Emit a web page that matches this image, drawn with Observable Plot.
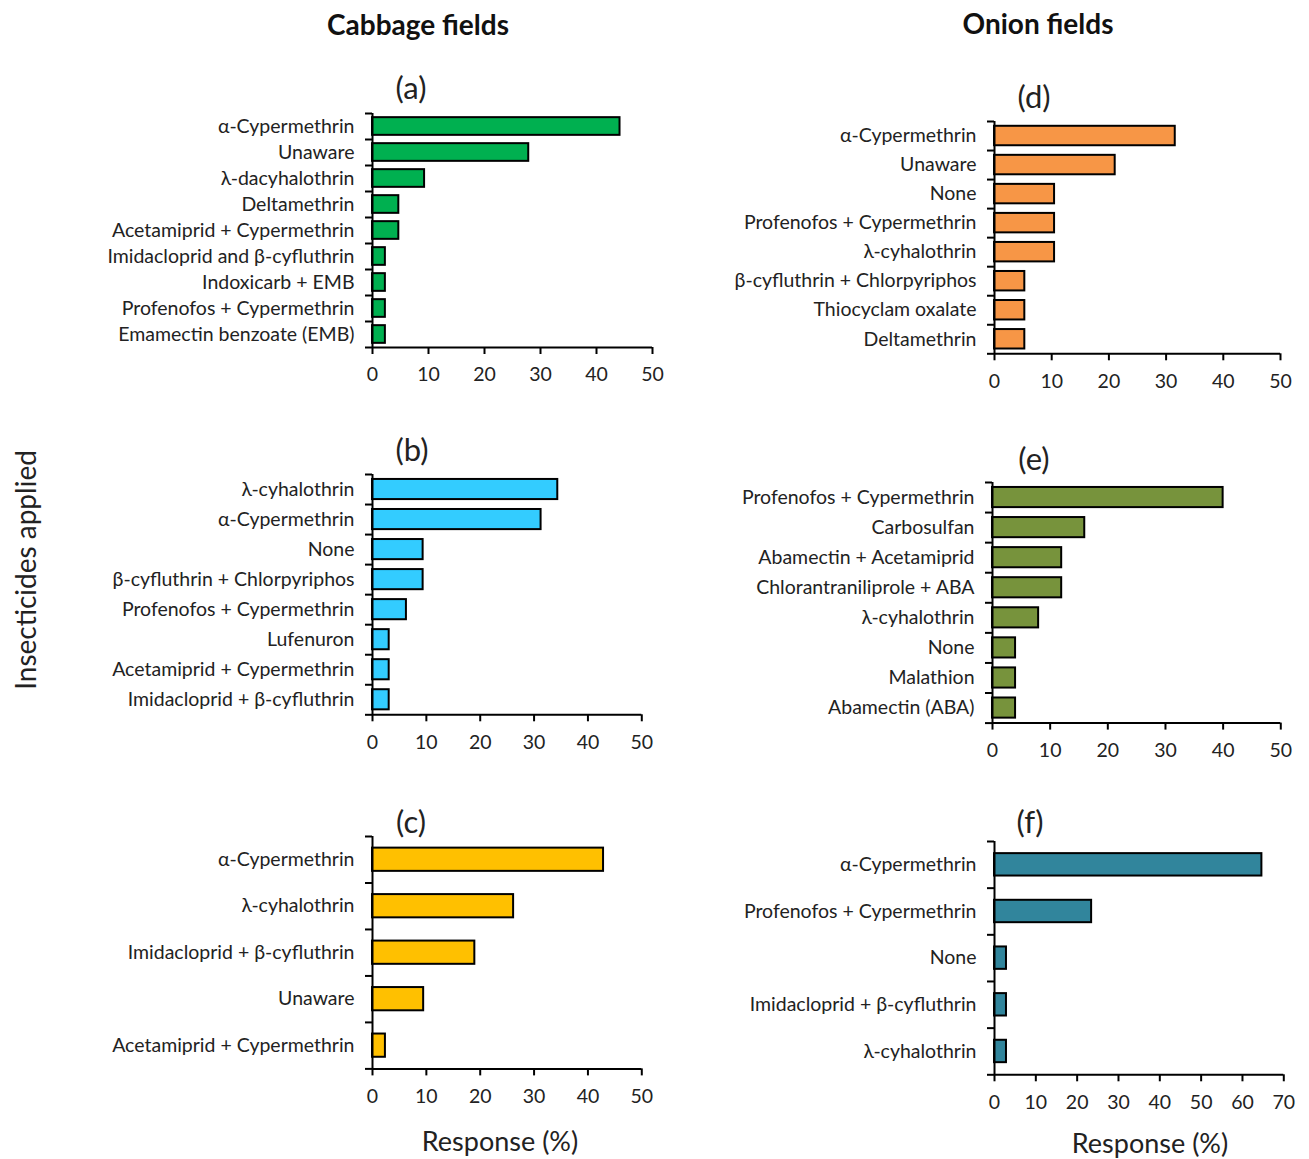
<!DOCTYPE html>
<html>
<head>
<meta charset="utf-8">
<script src="https://cdn.jsdelivr.net/npm/d3@7"></script>
<script src="https://cdn.jsdelivr.net/npm/@observablehq/plot@0.6"></script>
<style>
  html, body { margin: 0; padding: 0; background: #fff; }
  #page { position: relative; width: 1309px; height: 1159px; overflow: hidden; font-family: Lato, "Open Sans", sans-serif; color: #222; }
  .txt { position: absolute; transform: translate(-50%, -50%); white-space: nowrap; }
  .head { font-weight: 700; font-size: 28px; color: #111; }
  .letter { font-size: 31px; }
  .xtitle { font-size: 27px; }
  .ytitle { font-size: 28px; transform: translate(-50%, -50%) rotate(-90deg); }
  svg { position: absolute; overflow: visible; }
</style>
</head>
<body>
<div id="page"></div>
<script>
// Insecticides reported by farmers, share of respondents (%)

// (a) Cabbage fields
const cabbageA_labels = ["α-Cypermethrin", "Unaware", "λ-dacyhalothrin", "Deltamethrin", "Acetamiprid + Cypermethrin", "Imidacloprid and β-cyfluthrin", "Indoxicarb + EMB", "Profenofos + Cypermethrin", "Emamectin benzoate (EMB)"];
const cabbageA_values = [44.2, 27.9, 9.3, 4.7, 4.7, 2.3, 2.3, 2.3, 2.3];

// (b) Cabbage fields
const cabbageB_labels = ["λ-cyhalothrin", "α-Cypermethrin", "None", "β-cyfluthrin + Chlorpyriphos", "Profenofos + Cypermethrin", "Lufenuron", "Acetamiprid + Cypermethrin", "Imidacloprid + β-cyfluthrin"];
const cabbageB_values = [34.4, 31.3, 9.4, 9.4, 6.3, 3.1, 3.1, 3.1];

// (c) Cabbage fields
const cabbageC_labels = ["α-Cypermethrin", "λ-cyhalothrin", "Imidacloprid + β-cyfluthrin", "Unaware", "Acetamiprid + Cypermethrin"];
const cabbageC_values = [42.9, 26.2, 19.0, 9.5, 2.4];

// (d) Onion fields
const onionD_labels = ["α-Cypermethrin", "Unaware", "None", "Profenofos + Cypermethrin", "λ-cyhalothrin", "β-cyfluthrin + Chlorpyriphos", "Thiocyclam oxalate", "Deltamethrin"];
const onionD_values = [31.6, 21.1, 10.5, 10.5, 10.5, 5.3, 5.3, 5.3];

// (e) Onion fields
const onionE_labels = ["Profenofos + Cypermethrin", "Carbosulfan", "Abamectin + Acetamiprid", "Chlorantraniliprole + ABA", "λ-cyhalothrin", "None", "Malathion", "Abamectin (ABA)"];
const onionE_values = [40, 16, 12, 12, 8, 4, 4, 4];

// (f) Onion fields
const onionF_labels = ["α-Cypermethrin", "Profenofos + Cypermethrin", "None", "Imidacloprid + β-cyfluthrin", "λ-cyhalothrin"];
const onionF_values = [64.7, 23.5, 2.9, 2.9, 2.9];

const page = document.getElementById("page");
const FONT = 'Lato, "Open Sans", sans-serif';

function addText(text, x, y, cls) {
  const el = document.createElement("div");
  el.className = "txt " + cls;
  el.textContent = text;
  el.style.left = x + "px";
  el.style.top = y + "px";
  page.appendChild(el);
}

// One horizontal bar panel; x0/x1 and yTop/yBot are the plot frame on the page.
function panel({labels, values, color, x0, x1, yTop, yBot, xMax, ratio}) {
  const n = labels.length;
  const ML = 300, MR = 20, MT = 14, MB = 50;
  const width = ML + (x1 - x0) + MR;
  const height = MT + (yBot - yTop) + MB;
  const rows = labels.map((label, i) => ({label, value: values[i], i}));
  const pad = (1 - ratio) / 2;
  const svg = Plot.plot({
    width, height,
    marginLeft: ML, marginRight: MR, marginTop: MT, marginBottom: MB,
    x: {type: "linear", domain: [0, xMax]},
    y: {type: "linear", domain: [0, n], reverse: true},
    style: {fontFamily: FONT, fontSize: "19.5px", color: "#222", background: "transparent", overflow: "visible"},
    marks: [
      Plot.rect(rows, {x1: 0, x2: "value", y1: d => d.i + pad, y2: d => d.i + 1 - pad, fill: color, stroke: "#000", strokeWidth: 2}),
      Plot.ruleX([0], {stroke: "#000", strokeWidth: 2}),
      Plot.ruleY([n], {stroke: "#000", strokeWidth: 2}),
      Plot.axisY({ticks: d3.range(n + 1), tickFormat: () => "", tickSize: 7, stroke: "#000", strokeWidth: 2, label: null}),
      Plot.axisY({ticks: d3.range(n).map(i => i + 0.5), tickFormat: v => labels[Math.floor(v)], tickSize: 0, tickPadding: 18, label: null}),
      Plot.axisX({ticks: d3.range(0, xMax + 1, 10), tickFormat: d3.format("d"), tickSize: 7, stroke: "#000", strokeWidth: 2, tickPadding: 13, label: null})
    ]
  });
  svg.style.left = (x0 - ML) + "px";
  svg.style.top = (yTop - MT) + "px";
  page.appendChild(svg);
}

panel({labels: cabbageA_labels, values: cabbageA_values, color: "#00B050", x0: 371.7, x1: 651.7, yTop: 112.7, yBot: 346.7, xMax: 50, ratio: 0.68});
panel({labels: cabbageB_labels, values: cabbageB_values, color: "#33CCFF", x0: 371.7, x1: 641, yTop: 474, yBot: 714.3, xMax: 50, ratio: 0.67});
panel({labels: cabbageC_labels, values: cabbageC_values, color: "#FFC000", x0: 371.7, x1: 641, yTop: 836.3, yBot: 1068.7, xMax: 50, ratio: 0.5});
panel({labels: onionD_labels, values: onionD_values, color: "#F79646", x0: 994, x1: 1280, yTop: 121, yBot: 353.3, xMax: 50, ratio: 0.67});
panel({labels: onionE_labels, values: onionE_values, color: "#77933C", x0: 991.7, x1: 1280, yTop: 481.7, yBot: 722.3, xMax: 50, ratio: 0.67});
panel({labels: onionF_labels, values: onionF_values, color: "#31859C", x0: 994, x1: 1283.3, yTop: 841, yBot: 1074.3, xMax: 70, ratio: 0.48});

addText("Cabbage fields", 418, 24, "head");
addText("Onion fields", 1038, 23, "head");
addText("(a)", 411, 87, "letter");
addText("(b)", 412, 449, "letter");
addText("(c)", 411, 821, "letter");
addText("(d)", 1034, 96, "letter");
addText("(e)", 1034, 458, "letter");
addText("(f)", 1030, 821, "letter");
addText("Response (%)", 500, 1140, "xtitle");
addText("Response (%)", 1150, 1142, "xtitle");
addText("Insecticides applied", 25, 570, "ytitle");
</script>
</body>
</html>
